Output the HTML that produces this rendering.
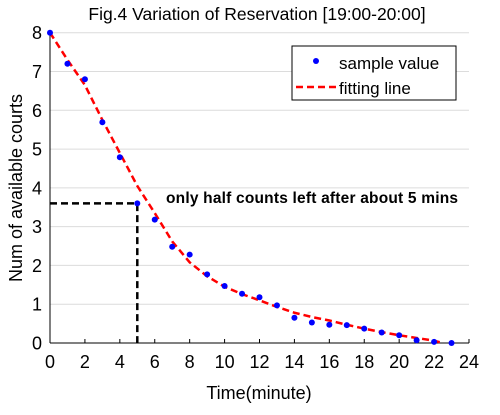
<!DOCTYPE html>
<html><head><meta charset="utf-8"><style>
body{margin:0;background:#fff;}
svg text{font-family:"Liberation Sans",Arial,sans-serif;}
</style></head><body>
<svg id="chart" width="500" height="410" xmlns="http://www.w3.org/2000/svg">
<text x="257" y="20" font-size="17.5" text-anchor="middle">Fig.4 Variation of Reservation [19:00-20:00]</text>
<g id="grid"></g><g id="axes"></g><g id="marks"></g>
<text x="259" y="399" font-size="18" text-anchor="middle">Time(minute)</text>
<text transform="translate(22,188) rotate(-90)" font-size="18" text-anchor="middle">Num of available courts</text>
<text x="166" y="203" font-size="15.5" font-weight="bold" textLength="292">only half counts left after about 5 mins</text>
<g>
<rect x="292" y="46" width="164" height="54" fill="#fff" stroke="#000" stroke-width="1"/>
<circle cx="316" cy="61" r="3" fill="#0000ff"/>
<text x="339" y="69" font-size="17">sample value</text>
<line x1="296" y1="87" x2="336" y2="87" stroke="#ff0000" stroke-width="2.5" stroke-dasharray="7,4"/>
<text x="339" y="94" font-size="17">fitting line</text>
</g>
</svg>
<script>
const sampleX=[0,1,2,3,4,5,6,7,8,9,10,11,12,13,14,15,16,17,18,19,20,21,22,23];
const sampleY=[8,7.2,6.8,5.69,4.79,3.6,3.18,2.48,2.28,1.77,1.47,1.27,1.18,0.97,0.65,0.53,0.47,0.46,0.37,0.27,0.2,0.07,0.03,0];
const fitX=[0,1,2,3,4,5,6,7,8,9,10,11,12,13,14,15,16,17,18,19,20,21,22,22.5];
const fitY=[8,7.3,6.65,5.75,4.9,4.05,3.35,2.62,2.08,1.72,1.45,1.26,1.1,0.93,0.78,0.67,0.58,0.47,0.37,0.28,0.2,0.13,0.06,0];
const xTicks=[0,2,4,6,8,10,12,14,16,18,20,22,24];
const yTicks=[0,1,2,3,4,5,6,7,8];
const markX=5, markY=3.6;
const NS="http://www.w3.org/2000/svg";
const X0=50,X1=469,Y0=343,Y1=32.7;
const sx=v=>X0+(X1-X0)*v/24;
const sy=v=>Y0-(Y0-Y1)*v/8;
function mk(parent,tag,attrs){const e=document.createElementNS(NS,tag);for(const k in attrs)e.setAttribute(k,attrs[k]);document.getElementById(parent).appendChild(e);return e;}
yTicks.forEach(t=>{
  if(t>0){const g=mk('grid','line',{x1:X0,x2:X1,y1:sy(t),y2:sy(t),stroke:'#dcdcdc','stroke-width':1});
  
  }
  const l=mk('axes','text',{x:X0-8,y:sy(t)+6.5,'font-size':18,'text-anchor':'end'});l.textContent=t;
  
  
});
xTicks.forEach(t=>{
  mk('axes','line',{x1:sx(t),x2:sx(t),y1:Y0,y2:Y0-4,stroke:'#000'});
  const l=mk('axes','text',{x:sx(t),y:Y0+25,'font-size':18,'text-anchor':'middle'});l.textContent=t;
  
  
});
const xa=mk('axes','line',{x1:X0,x2:X1,y1:Y0,y2:Y0,stroke:'#000','stroke-width':1});


const ya=mk('axes','line',{x1:X0,x2:X0,y1:Y0,y2:Y1,stroke:'#000','stroke-width':1});


const h=mk('marks','polyline',{points:`${sx(0)},${sy(markY)} ${sx(markX)},${sy(markY)} ${sx(markX)},${sy(0)}`,fill:'none',stroke:'#000','stroke-width':2.5,'stroke-dasharray':'7,4'});


const fit=mk('marks','polyline',{points:fitX.map((x,i)=>sx(x)+','+sy(fitY[i])).join(' '),fill:'none',stroke:'#ff0000','stroke-width':2.5,'stroke-dasharray':'7,4'});


sampleX.forEach((x,i)=>{
  const c=mk('marks','circle',{cx:sx(x),cy:sy(sampleY[i]),r:3,fill:'#0000ff'});
  
  
});
</script>
</body></html>
